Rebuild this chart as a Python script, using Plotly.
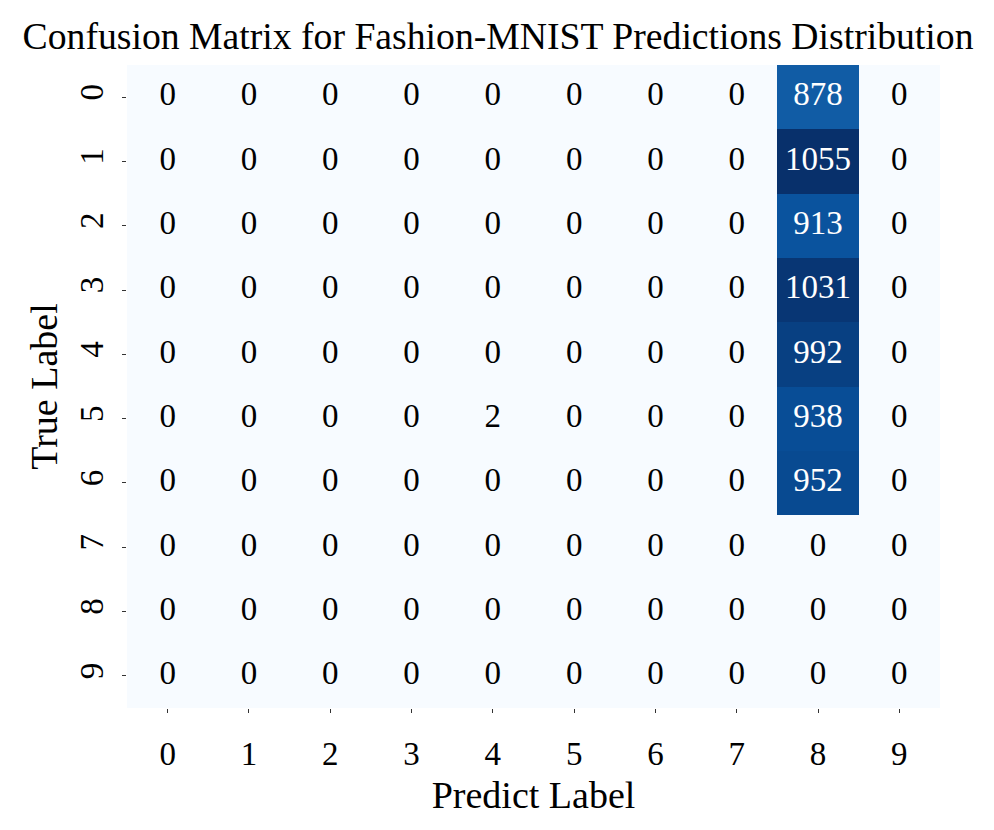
import plotly.graph_objects as go

labels = ["0", "1", "2", "3", "4", "5", "6", "7", "8", "9"]
col8_counts = [878, 1055, 913, 1031, 992, 938, 952, 0, 0, 0]
row5_col4 = 2

z = []
for i in range(10):
    row = [0] * 10
    row[8] = col8_counts[i]
    z.append(row)
z[5][4] = row5_col4

blues = ["#f7fbff", "#deebf7", "#c6dbef", "#9ecae1", "#6baed6",
         "#4292c6", "#2171b5", "#08519c", "#08306b"]
cs = [[i / (len(blues) - 1), c] for i, c in enumerate(blues)]
zmax = max(col8_counts)

FONT = "Liberation Serif"

tx, ty, tt, tc = [], [], [], []
for i in range(10):
    for j in range(10):
        tx.append(labels[j])
        ty.append(labels[i])
        tt.append(str(z[i][j]))
        tc.append("white" if z[i][j] > 0.5 * zmax else "black")

fig = go.Figure()
fig.add_trace(go.Heatmap(
    z=z, x=labels, y=labels,
    colorscale=cs, zmin=0, zmax=zmax,
    showscale=False, hoverongaps=False,
))
fig.add_trace(go.Scatter(
    x=tx, y=ty, text=tt, mode="text",
    textfont=dict(family=FONT, size=33, color=tc),
    showlegend=False, hoverinfo="skip",
))

fig.update_layout(
    width=994, height=830,
    margin=dict(l=119, r=62, t=57, b=130),
    paper_bgcolor="white", plot_bgcolor="white",
    font=dict(family=FONT, color="black"),
    title=dict(text="Confusion Matrix for Fashion-MNIST Predictions Distribution",
               x=0.493, xref="container", xanchor="center", y=0.967, yanchor="middle",
               font=dict(family=FONT, size=37.7, color="black")),
)
fig.update_xaxes(
    type="category", showgrid=False, zeroline=False, showline=False,
    ticks="outside", ticklen=4, tickwidth=1, tickcolor="#333",
    ticklabelstandoff=12,
    tickfont=dict(family=FONT, size=33, color="black"),
    title=dict(text="Predict Label", font=dict(family=FONT, size=38, color="black"), standoff=10),
)
fig.update_yaxes(
    type="category", autorange="reversed", showgrid=False, zeroline=False, showline=False,
    ticks="outside", ticklen=4, tickwidth=1, tickcolor="#333",
    ticklabelstandoff=6, tickangle=-90,
    tickfont=dict(family=FONT, size=33, color="black"),
    title=dict(text="True Label", font=dict(family=FONT, size=38, color="black"), standoff=4),
)

fig.write_html("out.html")
